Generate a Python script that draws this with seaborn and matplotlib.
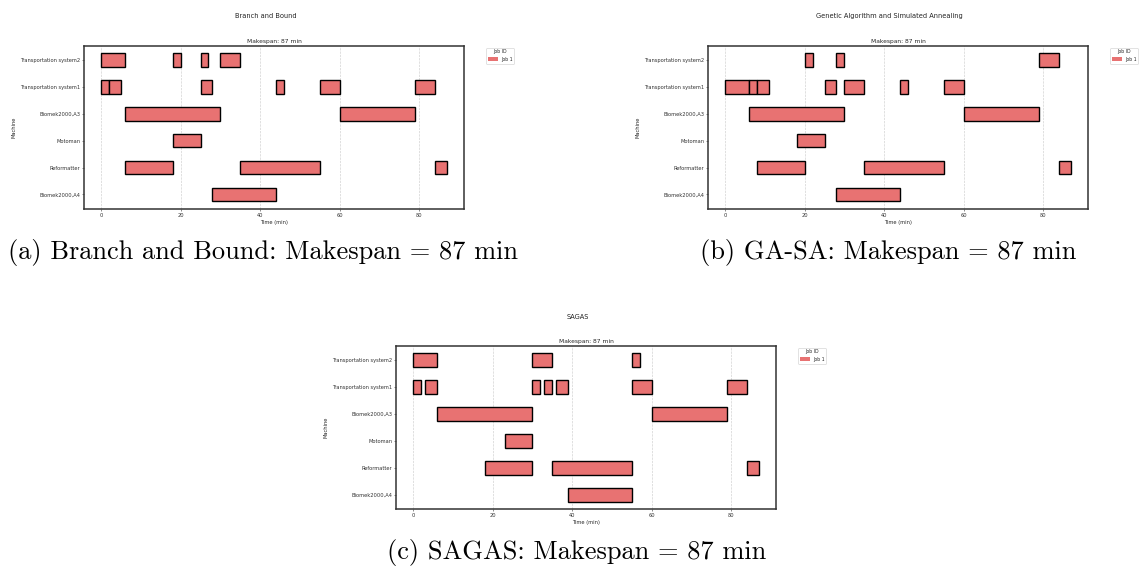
import matplotlib
matplotlib.use("Agg")
import matplotlib.pyplot as plt
from matplotlib.patches import Patch
import pandas as pd
import seaborn as sns

# Machines, bottom row first
MACHINES = ["Biomek2000,A4", "Reformatter", "Motoman",
            "Biomek2000,A3", "Transportation system1", "Transportation system2"]

# Operation intervals (machine, start, end) in minutes for each schedule
BB_TASKS = [
    ("Transportation system2", 0, 6), ("Transportation system2", 18, 20),
    ("Transportation system2", 25, 27), ("Transportation system2", 30, 35),
    ("Transportation system1", 0, 2), ("Transportation system1", 2, 5),
    ("Transportation system1", 25, 28), ("Transportation system1", 44, 46),
    ("Transportation system1", 55, 60), ("Transportation system1", 79, 84),
    ("Biomek2000,A3", 6, 30), ("Biomek2000,A3", 60, 79),
    ("Motoman", 18, 25),
    ("Reformatter", 6, 18), ("Reformatter", 35, 55), ("Reformatter", 84, 87),
    ("Biomek2000,A4", 28, 44),
]

GASA_TASKS = [
    ("Transportation system2", 20, 22), ("Transportation system2", 28, 30),
    ("Transportation system2", 79, 84),
    ("Transportation system1", 0, 6), ("Transportation system1", 6, 8),
    ("Transportation system1", 8, 11), ("Transportation system1", 25, 28),
    ("Transportation system1", 30, 35), ("Transportation system1", 44, 46),
    ("Transportation system1", 55, 60),
    ("Biomek2000,A3", 6, 30), ("Biomek2000,A3", 60, 79),
    ("Motoman", 18, 25),
    ("Reformatter", 8, 20), ("Reformatter", 35, 55), ("Reformatter", 84, 87),
    ("Biomek2000,A4", 28, 44),
]

SAGAS_TASKS = [
    ("Transportation system2", 0, 6), ("Transportation system2", 30, 35),
    ("Transportation system2", 55, 57),
    ("Transportation system1", 0, 2), ("Transportation system1", 3, 6),
    ("Transportation system1", 30, 32), ("Transportation system1", 33, 35),
    ("Transportation system1", 36, 39), ("Transportation system1", 55, 60),
    ("Transportation system1", 79, 84),
    ("Biomek2000,A3", 6, 30), ("Biomek2000,A3", 60, 79),
    ("Motoman", 23, 30),
    ("Reformatter", 18, 30), ("Reformatter", 35, 55), ("Reformatter", 84, 87),
    ("Biomek2000,A4", 39, 55),
]

TITLES = ["Branch and Bound", "Genetic Algorithm and Simulated Annealing", "SAGAS"]
CAPTIONS = ["(a) Branch and Bound: Makespan = 87 min",
            "(b) GA-SA: Makespan = 87 min",
            "(c) SAGAS: Makespan = 87 min"]
MAKESPANS = [87, 87, 87]
JOB_LABEL = "Job 1"

sns.set_theme(style="whitegrid")
plt.rcParams.update({
    "font.family": ["DejaVu Sans"],
    "axes.edgecolor": "#333333",
    "axes.linewidth": 1.1,
    "xtick.bottom": True,
    "ytick.left": True,
    "xtick.major.size": 1.4,
    "ytick.major.size": 1.4,
    "xtick.major.width": 0.4,
    "ytick.major.width": 0.4,
    "xtick.major.pad": 1.5,
    "ytick.major.pad": 1.2,
    "xtick.color": "#333333",
    "ytick.color": "#333333",
})

BAR_COLOR = "#e87272"

W, H = 1142, 566
fig = plt.figure(figsize=(W / 100, H / 100), dpi=100)


def px_rect(left, top, width, height):
    return [left / W, 1 - (top + height) / H, width / W, height / H]


# (axes rect in pixels, title centre, caption centre)
PANELS = [
    (px_rect(84, 46, 380, 162.5), (266, 16), (263, 252)),
    (px_rect(708, 46, 380, 162.5), (889, 16), (888, 252)),
    (px_rect(396, 346, 380, 163), (578, 317), (577, 552)),
]

for tasks, title, caption, span, (rect, tpos, cpos) in zip(
        [BB_TASKS, GASA_TASKS, SAGAS_TASKS], TITLES, CAPTIONS, MAKESPANS, PANELS):
    df = pd.DataFrame(tasks, columns=["machine", "start", "end"])
    df["row"] = df["machine"].map({m: i for i, m in enumerate(MACHINES)})
    ax = fig.add_axes(rect)
    ax.barh(df["row"], df["end"] - df["start"], left=df["start"], height=0.5,
            color=BAR_COLOR, edgecolor="black", linewidth=1.0)
    lo, hi = df["start"].min(), df["end"].max()
    pad = 0.05 * (hi - lo)
    ax.set_xlim(lo - pad, hi + pad)
    ax.set_yticks(range(len(MACHINES)))
    ax.set_yticklabels(MACHINES, fontsize=3.7)
    ax.set_xticks([0, 20, 40, 60, 80])
    ax.tick_params(axis="x", labelsize=3.7)
    ax.grid(False)
    ax.grid(axis="x", linestyle="--", linewidth=0.45, color="#c8c8c8", alpha=0.9)
    ax.set_axisbelow(True)
    ax.set_xlabel("Time (min)", fontsize=3.7, labelpad=1.5)
    ax.set_ylabel("Machine", fontsize=3.7, labelpad=3)
    ax.set_title(f"Makespan: {span} min", fontsize=4.3, pad=2.5)
    handles = [Patch(facecolor=BAR_COLOR, edgecolor="none", label=JOB_LABEL)]
    leg = ax.legend(handles=handles, title="Job ID", loc="upper left",
                    bbox_to_anchor=(1.058, 0.99), borderaxespad=0,
                    fontsize=3.3, title_fontsize=3.3, frameon=True,
                    handlelength=2.2, handleheight=0.9, borderpad=0.4,
                    handletextpad=0.6)
    leg.get_frame().set_linewidth(0.5)
    leg.get_frame().set_edgecolor("#cccccc")
    fig.text(tpos[0] / W, 1 - tpos[1] / H, title, fontsize=4.8,
             ha="center", va="center", color="#222222")
    fig.text(cpos[0] / W, 1 - cpos[1] / H, caption, fontsize=19,
             family="cmr10", ha="center", va="center", color="black")

fig.savefig("out.png", dpi=100)
